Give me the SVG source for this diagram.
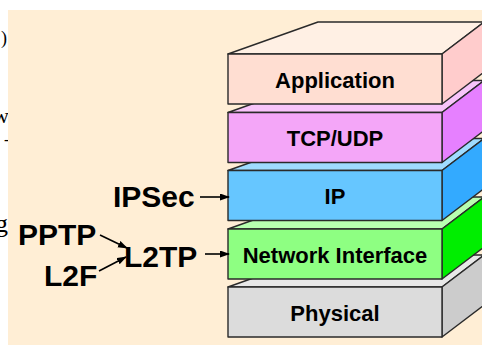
<svg xmlns="http://www.w3.org/2000/svg" width="482" height="345" viewBox="0 0 482 345">
  <style>
    .edge { stroke: #2a2a2a; stroke-width: 1.4; stroke-linejoin: round; }
    .layer-label { font-family: "Liberation Sans", Arial, sans-serif; font-weight: bold; font-size: 22px; fill: #000; text-anchor: middle; }
    .proto { font-family: "Liberation Sans", Arial, sans-serif; font-weight: bold; font-size: 30px; fill: #000; }
    .page { font-family: "Liberation Serif", "Times New Roman", serif; fill: #000; }
    .link { stroke: #000; stroke-width: 1.6; fill: none; marker-end: url(#head); }
  </style>
  <defs>
    <marker id="head" markerUnits="userSpaceOnUse" markerWidth="10" markerHeight="8" refX="9" refY="3.5" orient="auto">
      <path d="M0,0 L10,3.5 L0,7 z" fill="#000"/>
    </marker>
  </defs>

  <!-- page background and neighbouring body text, mostly hidden by the panel -->
  <rect x="0" y="0" width="482" height="345" fill="#fff"/>
  <text class="page" x="1" y="44" font-size="18">)</text>
  <text class="page" x="-7" y="123" font-size="22">w</text>
  <text class="page" x="4" y="145" font-size="16">-</text>
  <text class="page" x="-5" y="232" font-size="26">g</text>

  <!-- panel -->
  <rect x="8" y="10" width="474" height="335" fill="#FFEED5"/>

  <!-- protocol stack, drawn bottom-up so upper slabs overlap lower top faces -->
  <g id="physical">
    <polygon class="edge" points="228,287 318,255 484,255 442,287" fill="#E8E8E8"/>
    <polygon class="edge" points="442,287 484,255 484,305 442,337" fill="#CCCCCC"/>
    <rect class="edge" x="228" y="287" width="214" height="50" fill="#DCDCDC"/>
    <text class="layer-label" x="335" y="320.5">Physical</text>
  </g>

  <g id="network-interface">
    <polygon class="edge" points="228,229 318,197 484,197 442,229" fill="#B8FFB0"/>
    <polygon class="edge" points="442,229 484,197 484,247 442,279" fill="#00EE00"/>
    <rect class="edge" x="228" y="229" width="214" height="50" fill="#8EFF82"/>
    <text class="layer-label" x="335" y="262.5">Network Interface</text>
  </g>

  <g id="ip">
    <polygon class="edge" points="228,170.5 318,138.5 484,138.5 442,170.5" fill="#9FDCFF"/>
    <polygon class="edge" points="442,170.5 484,138.5 484,188.5 442,220.5" fill="#33AAFF"/>
    <rect class="edge" x="228" y="170.5" width="214" height="50" fill="#66C6FF"/>
    <text class="layer-label" x="335" y="204">IP</text>
  </g>

  <g id="tcp-udp">
    <polygon class="edge" points="228,112.5 318,80.5 484,80.5 442,112.5" fill="#F8C4FA"/>
    <polygon class="edge" points="442,112.5 484,80.5 484,130.5 442,162.5" fill="#E680FF"/>
    <rect class="edge" x="228" y="112.5" width="214" height="50" fill="#F4A6F8"/>
    <text class="layer-label" x="335" y="146">TCP/UDP</text>
  </g>

  <g id="application">
    <polygon class="edge" points="228,54 318,22 484,22 442,54" fill="#FFF0E4"/>
    <polygon class="edge" points="442,54 484,22 484,72 442,104" fill="#FFCCCC"/>
    <rect class="edge" x="228" y="54" width="214" height="50" fill="#FFDED2"/>
    <text class="layer-label" x="335" y="88">Application</text>
  </g>

  <!-- protocols attached to the stack -->
  <g id="ipsec"><text class="proto" x="113" y="207">IPSec</text></g>
  <g id="pptp"><text class="proto" x="18" y="245">PPTP</text></g>
  <g id="l2f"><text class="proto" x="44" y="286">L2F</text></g>
  <g id="l2tp"><text class="proto" x="124" y="267">L2TP</text></g>

  <g id="connectors">
    <line class="link" x1="200" y1="197" x2="229" y2="197"/>
    <line class="link" x1="205" y1="254" x2="229" y2="254"/>
    <line class="link" x1="100" y1="235" x2="127" y2="248"/>
    <line class="link" x1="99" y1="271" x2="126" y2="257"/>
  </g>
</svg>
